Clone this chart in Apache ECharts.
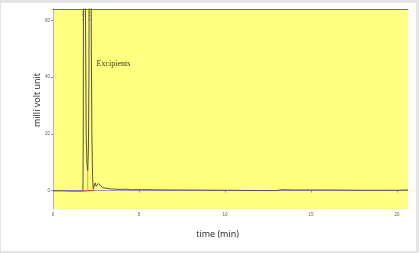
<!DOCTYPE html>
<html>
<head>
<meta charset="utf-8">
<script src="https://cdn.jsdelivr.net/npm/echarts@6/dist/echarts.min.js"></script>
<style>
    html, body { margin: 0; padding: 0; background: #e4e4e4; }
    #chart { position: absolute; left: 1px; top: 3px; width: 415px; height: 248px; background: #fff; }
</style>
</head>
<body>
<div id="chart"></div>
<script>
// chromatogram trace [time (min), mV]
var trace = [
    [0, -0.1], [0.5, -0.1], [1.0, -0.2], [1.5, -0.2], [1.74, -0.2],
    [1.76, 20], [1.775, 100], [1.83, 200], [1.87, 100], [1.89, 60],
    [1.93, 20], [1.97, 10], [2.02, 7], [2.06, 15], [2.09, 40], [2.11, 90],
    [2.15, 200], [2.20, 100], [2.23, 50], [2.26, 20], [2.30, 5], [2.34, 0.5],
    [2.40, 0.8], [2.45, 2.7], [2.52, 1.5], [2.57, 1.3], [2.64, 2.5], [2.70, 2.8],
    [2.78, 1.6], [2.90, 1.0], [3.0, 0.8], [3.3, 0.6], [3.6, 0.5], [4.0, 0.4],
    [4.3, 0.5], [4.5, 0.3], [5, 0.3], [7, 0.2], [10, 0.1], [12, 0.0],
    [13, 0.0], [13.3, 0.3], [14, 0.2], [16, 0.2], [18, 0.1], [20, 0.1], [20.64, 0.2]
];
var baseline = [[1.76, -0.2], [2.40, 0.1]];
var dropLine = [[2.02, 0], [2.02, 7]];
var peakTimes = ['1.83', '2.17'];
var peakPos = [1.84, 2.18];
var xTicks = [0, 5, 10, 15, 20];
var yTicks = [0, 20, 40, 60];

var myChart = echarts.init(document.getElementById('chart'));

myChart.setOption({
    animation: false,
    grid: {
        left: 52, right: 8, top: 6, bottom: 42,
        show: true, backgroundColor: '#ffff80', borderWidth: 0
    },
    xAxis: [
        {
            type: 'value', min: 0, max: 20.64,
            name: 'time (min)', nameLocation: 'middle', nameGap: 21, nameMoveOverlap: false,
            nameTextStyle: { fontFamily: 'Open Sans', fontSize: 9, color: '#222', padding: [0, 26, 0, 0] },
            axisLine: { lineStyle: { color: '#a0a0c8' } },
            axisTick: { customValues: xTicks, length: 2, lineStyle: { color: '#909090' } },
            axisLabel: { customValues: xTicks, fontSize: 4.5, color: '#606060', margin: 3 },
            splitLine: { show: false }
        },
        {
            type: 'value', position: 'top', min: 0, max: 20.64,
            axisLine: { show: true, lineStyle: { color: '#6868a0', width: 1 } },
            axisTick: { show: false }, axisLabel: { show: false }, splitLine: { show: false }
        }
    ],
    yAxis: {
        type: 'value', min: -6.5, max: 64,
        name: 'milli volt unit', nameLocation: 'middle', nameGap: 11, nameMoveOverlap: false,
        nameTextStyle: { fontFamily: 'Open Sans', fontSize: 9, color: '#222', padding: [0, 0, 0, 18] },
        axisLine: { show: true, lineStyle: { color: '#b4b4cc' } },
        axisTick: { show: true, customValues: yTicks, length: 2, lineStyle: { color: '#909090' } },
        axisLabel: { customValues: yTicks, fontSize: 4.5, color: '#606060', margin: 3 },
        splitLine: { show: false }
    },
    series: [
        {
            type: 'line', data: baseline, symbol: 'none',
            lineStyle: { color: '#ff3020', width: 1 }
        },
        {
            type: 'line', data: dropLine, symbol: 'none',
            lineStyle: { color: '#ff9040', width: 1 }
        },
        {
            type: 'line', data: trace, symbol: 'none',
            lineStyle: { color: '#555544', width: 1 }
        },
        {
            // peak retention-time labels
            type: 'scatter', symbolSize: 1, itemStyle: { color: 'rgba(0,0,0,0)' },
            data: peakPos.map(function (t, i) { return { value: [t, 61.5], name: peakTimes[i] }; }),
            label: {
                show: true, position: 'inside', rotate: 90, formatter: '{b}',
                fontSize: 5, color: '#e060d0'
            },
            labelLayout: { hideOverlap: false }
        },
        {
            type: 'scatter', symbolSize: 1, itemStyle: { color: 'rgba(0,0,0,0)' },
            data: [{ value: [2.5, 44.7], name: 'Excipients' }],
            label: {
                show: true, position: 'right', distance: 0, formatter: '{b}',
                fontFamily: 'Liberation Serif', fontSize: 8, color: '#000'
            }
        }
    ]
});
</script>
</body>
</html>
